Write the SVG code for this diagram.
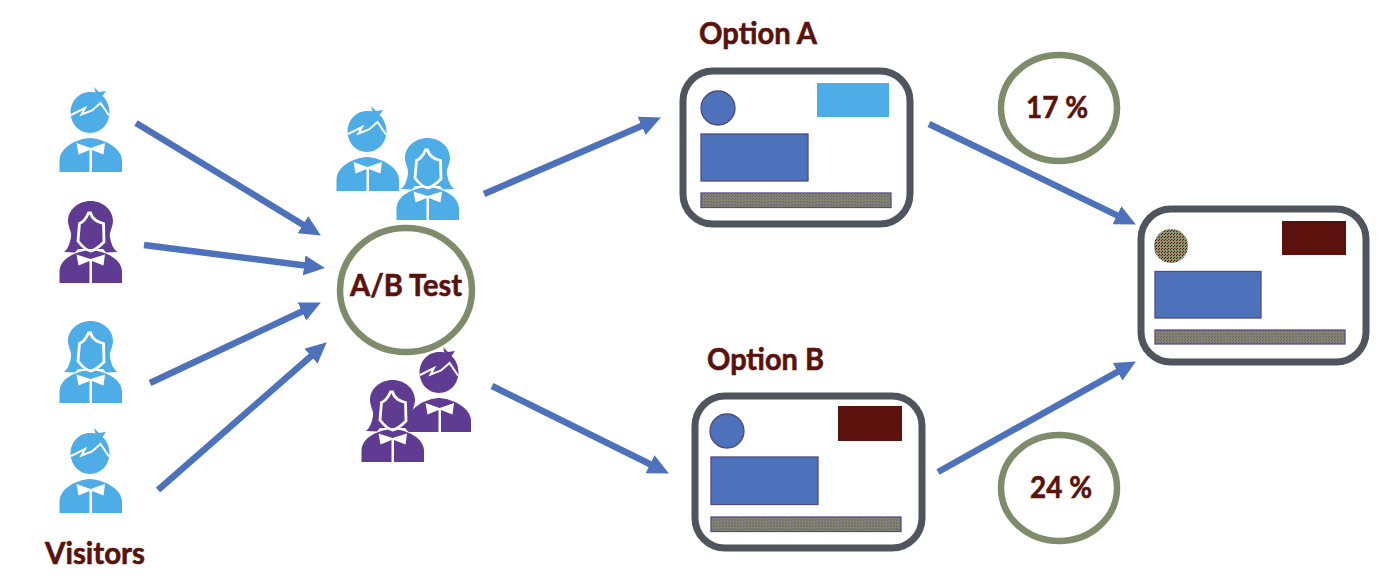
<svg xmlns="http://www.w3.org/2000/svg" width="1400" height="583" viewBox="0 0 1400 583">
<style>
.lb{fill:#4eace6}.pu{fill:#5f3b92}
.w{fill:#fff}.wl{fill:none;stroke:#fff}
.conn line{stroke:#4d72bb;stroke-width:6.5;fill:none}
.ring{fill:#fff;stroke:#7f8c6b;stroke-width:6.500}
.card{fill:#fff;stroke:#50545c;stroke-width:7}
.blue{fill:#4d72bb;stroke:#4f4a7c;stroke-width:1.3}
.bar{fill:url(#dith);stroke:#5b4a88;stroke-width:1.3}
.red{fill:#5c120c}
.t{font-family:"Lato","Liberation Sans",sans-serif;font-weight:700;fill:#5a120c;stroke:#5a120c;stroke-width:.6;font-size:30px}
</style>
<defs>
<pattern id="dith" width="3" height="3" patternUnits="userSpaceOnUse"><rect width="3" height="3" fill="#82866a"/><rect width="1" height="1" fill="#6a5a86"/><rect x="2" y="1" width="1" height="1" fill="#6a5a86"/></pattern>
<pattern id="dith2" width="3" height="3" patternUnits="userSpaceOnUse"><rect width="3" height="3" fill="#8a9470"/><rect width="1" height="1" fill="#5c120c"/><rect x="1" y="2" width="1" height="1" fill="#5c120c"/></pattern>
<marker id="ah" markerUnits="userSpaceOnUse" markerWidth="26" markerHeight="22" refX="3" refY="10" orient="auto"><path d="M0 0L21 10L0 20Z" fill="#4d72bb"/></marker>
<g id="boy">
<path d="M31 4C33 4 35 4 36.500 4.500L35 -1L40 4L47 3L43.500 8C48 12 50.500 18 50.500 25C50 36 42 45 31 45C20 45 12 36 11.500 25C11.500 13 20 4 31 4Z"/>
<path d="M0.500 84V72C1 60 16 51 31 50C46 51 62 60 63 72V84Z"/>
<path class="wl" stroke-width="2" d="M12 27L26 20L22.500 26.500L33 22.500L41.500 15L50 27.500"/>
<path class="w" d="M17.500 55L31.500 60L46 55L44.500 66.500L33 62V84H30.500V62L19.500 66.500Z"/>
</g>
<g id="girl">
<path d="M31.500 0C44 0 54 9 54 20C54 26 50 31 51 36C52 42 54 48 58.500 51L47 51.500L44 48H19L16 51.500L5 51C9 48 11 42 12 36C13 31 9 26 9 20C9 9 19 0 31.500 0Z"/>
<path d="M0.500 82V70C1 58 16 50 31.500 49C47 50 62 58 63 70V82Z"/>
<path d="M29.500 12C27 18 24 21 20.500 22.500L19 40C22 44 27 49 31.500 50C37 49 42 44 45 41L44.500 22.500C38 21 33 17 31.500 12Z" fill="none" stroke="#fff" stroke-width="2.800"/>
<path class="w" d="M17.500 53.500L31.500 58L46 53.500L44.500 64.500L33 60V82H30.500V60L19.500 64.500Z"/>
</g>
</defs>

<g class="conn">
<line x1="136" y1="123" x2="305.500" y2="226.200" marker-end="url(#ah)"/>
<line x1="144" y1="245" x2="307.100" y2="265.800" marker-end="url(#ah)"/>
<line x1="150" y1="383" x2="304.600" y2="310.200" marker-end="url(#ah)"/>
<line x1="158" y1="490" x2="313.200" y2="354.200" marker-end="url(#ah)"/>
<line x1="484" y1="194" x2="644.400" y2="124.700" marker-end="url(#ah)"/>
<line x1="492" y1="386" x2="652.800" y2="465.500" marker-end="url(#ah)"/>
<line x1="929" y1="124" x2="1119.700" y2="216.600" marker-end="url(#ah)"/>
<line x1="938" y1="472" x2="1120.200" y2="370.300" marker-end="url(#ah)"/>
</g>

<g id="visitor-1"><use href="#boy" class="lb" x="59" y="88"/></g>
<g id="visitor-2"><use href="#girl" class="pu" x="59" y="201"/></g>
<g id="visitor-3"><use href="#girl" class="lb" x="59" y="321"/></g>
<g id="visitor-4"><use href="#boy" class="lb" x="59" y="429"/></g>
<g id="visitors-label"><text class="t" x="45" y="564" textLength="100" lengthAdjust="spacingAndGlyphs">Visitors</text></g>

<g id="group-a"><use href="#boy" class="lb" x="336" y="107"/><use href="#girl" class="lb" x="396" y="138"/></g>
<g id="group-b"><use href="#boy" class="pu" x="408" y="348"/><use href="#girl" class="pu" x="361" y="380"/></g>

<g id="ab-test"><ellipse class="ring" cx="406" cy="290" rx="66" ry="62"/><text class="t" x="350" y="296" textLength="112" lengthAdjust="spacingAndGlyphs">A/B Test</text></g>

<g id="option-a">
<text class="t" x="699" y="44" textLength="118" lengthAdjust="spacingAndGlyphs">Option A</text>
<rect class="card" x="683" y="71" width="227" height="153" rx="30"/>
<circle class="blue" cx="718" cy="108" r="17"/>
<rect class="lb" x="817" y="83" width="72" height="34"/>
<rect class="blue" x="701" y="134" width="107" height="47"/>
<rect class="bar" x="701" y="193" width="190" height="14.500"/>
</g>

<g id="option-b">
<text class="t" x="707" y="370" textLength="117" lengthAdjust="spacingAndGlyphs">Option B</text>
<rect class="card" x="695" y="396" width="227" height="152" rx="30"/>
<circle class="blue" cx="727" cy="431" r="17"/>
<rect class="red" x="838" y="406" width="64" height="35"/>
<rect class="blue" x="711" y="457" width="107" height="47.500"/>
<rect class="bar" x="711" y="517" width="190" height="14.500"/>
</g>

<g id="result">
<rect class="card" x="1141" y="209" width="225" height="153" rx="30"/>
<circle cx="1171" cy="246" r="17" fill="url(#dith2)"/>
<rect class="red" x="1282" y="221" width="64" height="34"/>
<rect class="blue" x="1155" y="271.500" width="106" height="46.500"/>
<rect class="bar" x="1155" y="330" width="190" height="14"/>
</g>

<g id="rate-a"><ellipse class="ring" cx="1059" cy="108" rx="58" ry="53"/><text class="t" x="1026" y="118" textLength="62" lengthAdjust="spacingAndGlyphs">17 %</text></g>
<g id="rate-b"><ellipse class="ring" cx="1059" cy="488" rx="58" ry="53"/><text class="t" x="1030" y="498" textLength="62" lengthAdjust="spacingAndGlyphs">24 %</text></g>
</svg>
